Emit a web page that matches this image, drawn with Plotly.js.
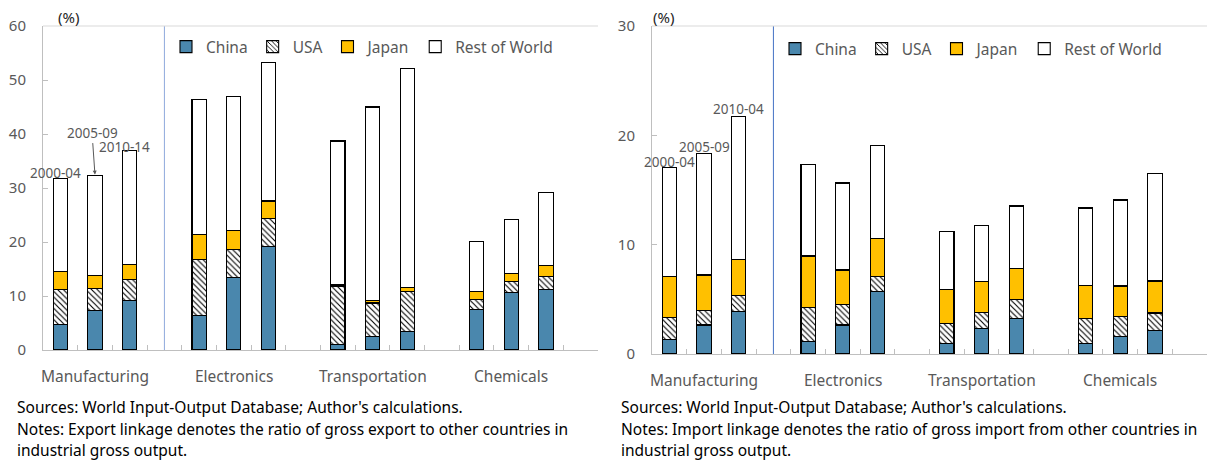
<!DOCTYPE html>
<html>
<head>
<meta charset="utf-8">
<script src="https://cdn.plot.ly/plotly-3.0.1.min.js"></script>
<style>
html,body{margin:0;padding:0;background:#fff;}
#chart{width:1207px;height:460px;}
</style>
</head>
<body>
<div id="chart"></div>
<script>
// ---------- data ----------
const categories = ['Manufacturing', 'Electronics', 'Transportation', 'Chemicals'];
const exportPeriods = ['2000-04', '2005-09', '2010-14'];
const importPeriods = ['2000-04', '2005-09', '2010-04'];
const seriesNames = ['China', 'USA', 'Japan', 'Rest of World'];
const yTicksExport = [0, 10, 20, 30, 40, 50, 60];
const yTicksImport = [0, 10, 20, 30];

// export linkage (%), ordered by category then period
const exportChina = [4.8, 7.35, 9.1, 6.4, 13.4, 19.2, 1.0, 2.5, 3.4, 7.5, 10.7, 11.2];
const exportUSA   = [6.4, 4.05, 4.0, 10.3, 5.2, 5.2, 10.85, 6.2, 7.5, 1.9, 2.0, 2.4];
const exportJapan = [3.4, 2.4, 2.8, 4.7, 3.6, 3.2, 0.35, 0.4, 0.6, 1.5, 1.4, 2.1];
const exportRoW   = [17.1, 18.5, 21.1, 25.0, 24.7, 25.7, 26.5, 35.9, 40.7, 9.2, 10.0, 13.5];

// import linkage (%)
const importChina = [1.3, 2.65, 3.9, 1.16, 2.65, 5.7, 0.97, 2.35, 3.26, 0.97, 1.58, 2.16];
const importUSA   = [2.05, 1.35, 1.43, 3.11, 1.89, 1.4, 1.83, 1.45, 1.71, 2.29, 1.87, 1.59];
const importJapan = [3.72, 3.23, 3.3, 4.69, 3.14, 3.5, 3.1, 2.8, 2.87, 3.02, 2.77, 2.93];
const importRoW   = [10.0, 11.07, 13.07, 8.39, 7.96, 8.5, 5.3, 5.17, 5.7, 7.07, 7.87, 9.85];

// ---------- helpers ----------
const FONT = '"Noto Sans", "Open Sans", sans-serif';
const GRAY = '#595959';
const AXIS = '#BFBFBF';
// slot position of each bar: group index * 4 + period index (one empty slot between groups)
const slotX = [];
categories.forEach((c, gi) => exportPeriods.forEach((p, pi) => slotX.push(gi * (exportPeriods.length + 1) + pi)));
const nSlots = categories.length * (exportPeriods.length + 1) - 1;

const styles = [
  {color: '#4A87AD'},
  {color: '#FFFFFF', pattern: {shape: '\\', fgcolor: '#000000', bgcolor: '#FFFFFF', size: 4, solidity: 0.28}},
  {color: '#FFC000'},
  {color: '#FFFFFF'}
];

function makeTraces(arrays, xa, ya, legendName) {
  return arrays.map((vals, i) => {
    const marker = {color: styles[i].color, line: {color: '#000000', width: 1.1}};
    if (styles[i].pattern) marker.pattern = styles[i].pattern;
    return {
      type: 'bar', name: seriesNames[i], x: slotX, y: vals,
      xaxis: xa, yaxis: ya, width: 0.41, marker: marker,
      legend: legendName, hoverinfo: 'skip'
    };
  });
}

const expArrays = [exportChina, exportUSA, exportJapan, exportRoW];
const impArrays = [importChina, importUSA, importJapan, importRoW];
const traces = makeTraces(expArrays, 'x', 'y', 'legend').concat(makeTraces(impArrays, 'x2', 'y2', 'legend2'));

const totals = arrs => arrs[0].map((_, k) => arrs.reduce((s, a) => s + a[k], 0));
const expTot = totals(expArrays);
const impTot = totals(impArrays);

const boundaryTicks = [];
for (let k = 0; k < nSlots; k++) boundaryTicks.push(k + 0.5);

const W = 1207, H = 460;
const px = v => v / W, py = v => 1 - v / H;

function xaxisDef(domain) {
  return {
    domain: domain, range: [-0.5, nSlots + 0.5], showgrid: false, zeroline: false,
    showline: true, linecolor: AXIS, linewidth: 1,
    tickmode: 'array', tickvals: boundaryTicks, ticks: 'inside', ticklen: 5,
    tickcolor: AXIS, showticklabels: false, fixedrange: true
  };
}
function yaxisDef(domain, range, tickvals, anchor) {
  return {
    domain: domain, range: range, anchor: anchor, showgrid: false, zeroline: false,
    showline: true, linecolor: AXIS, linewidth: 1,
    tickmode: 'array', tickvals: tickvals, ticks: 'inside', ticklen: 5, tickcolor: AXIS,
    tickfont: {family: FONT, size: 15, color: GRAY}, ticklabelstandoff: 13, fixedrange: true
  };
}

const annotations = [];
// category labels
categories.forEach((c, gi) => {
  const xc = gi * (exportPeriods.length + 1) + 1;
  annotations.push({xref: 'x', yref: 'paper', x: xc, y: py(376), text: c, showarrow: false,
    font: {family: FONT, size: 15.5, color: GRAY}, yanchor: 'middle'});
  annotations.push({xref: 'x2', yref: 'paper', x: xc, y: py(380), text: c, showarrow: false,
    font: {family: FONT, size: 15.5, color: GRAY}, yanchor: 'middle'});
});
// period labels (manufacturing bars)
const perFont = {family: FONT, size: 13.5, color: GRAY};
annotations.push({xref: 'x', yref: 'y', x: slotX[0], y: expTot[0], text: exportPeriods[0], showarrow: false,
  xshift: -5, yshift: 6, yanchor: 'middle', font: perFont});
annotations.push({xref: 'x', yref: 'y', x: slotX[1], y: expTot[1], text: exportPeriods[1], showarrow: true,
  arrowhead: 2, arrowsize: 0.8, arrowwidth: 1, arrowcolor: GRAY, ax: -3, ay: -43, standoff: 1,
  font: perFont});
annotations.push({xref: 'x', yref: 'y', x: slotX[2], y: expTot[2], text: exportPeriods[2], showarrow: false,
  xshift: -5, yshift: 3, yanchor: 'middle', font: perFont});
const impShift = [5, 7, 8];
importPeriods.forEach((p, i) => {
  annotations.push({xref: 'x2', yref: 'y2', x: slotX[i], y: impTot[i], text: p, showarrow: false,
    yshift: impShift[i], yanchor: 'middle', font: perFont});
});
// unit labels
annotations.push({xref: 'paper', yref: 'paper', x: px(56), y: py(17), text: '(%)', showarrow: false,
  yanchor: 'middle', font: {family: FONT, size: 15, color: '#262626'}});
annotations.push({xref: 'paper', yref: 'paper', x: px(663), y: py(17), text: '(%)', showarrow: false,
  yanchor: 'middle', font: {family: FONT, size: 15, color: '#262626'}});
// notes
const noteFont = {family: FONT, size: 15.5, color: '#000000'};
const leftNotes = ['Sources: World Input-Output Database; Author\'s calculations.',
  'Notes: Export linkage denotes the ratio of gross export to other countries in',
  'industrial gross output.'];
const rightNotes = ['Sources: World Input-Output Database; Author\'s calculations.',
  'Notes: Import linkage denotes the ratio of gross import from other countries in',
  'industrial gross output.'];
const noteY = [407, 429, 450];
leftNotes.forEach((t, i) => annotations.push({xref: 'paper', yref: 'paper', x: px(15), y: py(noteY[i]),
  xanchor: 'left', yanchor: 'middle', text: t, showarrow: false, font: noteFont}));
rightNotes.forEach((t, i) => annotations.push({xref: 'paper', yref: 'paper', x: px(619), y: py(noteY[i]),
  xanchor: 'left', yanchor: 'middle', text: t, showarrow: false, font: noteFont}));

const shapes = [
  {type: 'line', xref: 'x', yref: 'y domain', x0: 3, x1: 3, y0: 0, y1: 1, line: {color: '#8FAADC', width: 1}},
  {type: 'line', xref: 'x2', yref: 'y2 domain', x0: 3, x1: 3, y0: 0, y1: 1, line: {color: '#4472C4', width: 1}},
  {type: 'line', xref: 'x domain', yref: 'y domain', x0: 0, x1: 1, y0: 1, y1: 1, line: {color: '#D9D9D9', width: 1}},
  {type: 'line', xref: 'x2 domain', yref: 'y2 domain', x0: 0, x1: 1, y0: 1, y1: 1, line: {color: '#D9D9D9', width: 1}}
];

const legendBase = {orientation: 'h', bgcolor: 'rgba(0,0,0,0)', borderwidth: 0,
  font: {family: FONT, size: 15.5, color: GRAY}, yanchor: 'middle', xanchor: 'left',
  traceorder: 'normal', itemclick: false, itemdoubleclick: false};

const layout = {
  width: W, height: H, margin: {l: 0, r: 0, t: 0, b: 0},
  paper_bgcolor: '#FFFFFF', plot_bgcolor: '#FFFFFF',
  barmode: 'stack', bargap: 0, showlegend: true,
  font: {family: FONT, color: GRAY},
  xaxis: xaxisDef([px(43), px(598)]),
  yaxis: yaxisDef([1 - 350 / H, 1 - 26 / H], [0, 60], yTicksExport, 'x'),
  xaxis2: xaxisDef([px(652), 1]),
  yaxis2: yaxisDef([1 - 354 / H, 1 - 26 / H], [0, 30], yTicksImport, 'x2'),
  legend: Object.assign({}, legendBase, {x: px(166), y: py(47)}),
  legend2: Object.assign({}, legendBase, {x: px(775), y: py(49)}),
  annotations: annotations,
  shapes: shapes
};
layout.xaxis.anchor = 'y';
layout.xaxis2.anchor = 'y2';

Plotly.newPlot('chart', traces, layout, {displayModeBar: false, staticPlot: true});
</script>
</body>
</html>
